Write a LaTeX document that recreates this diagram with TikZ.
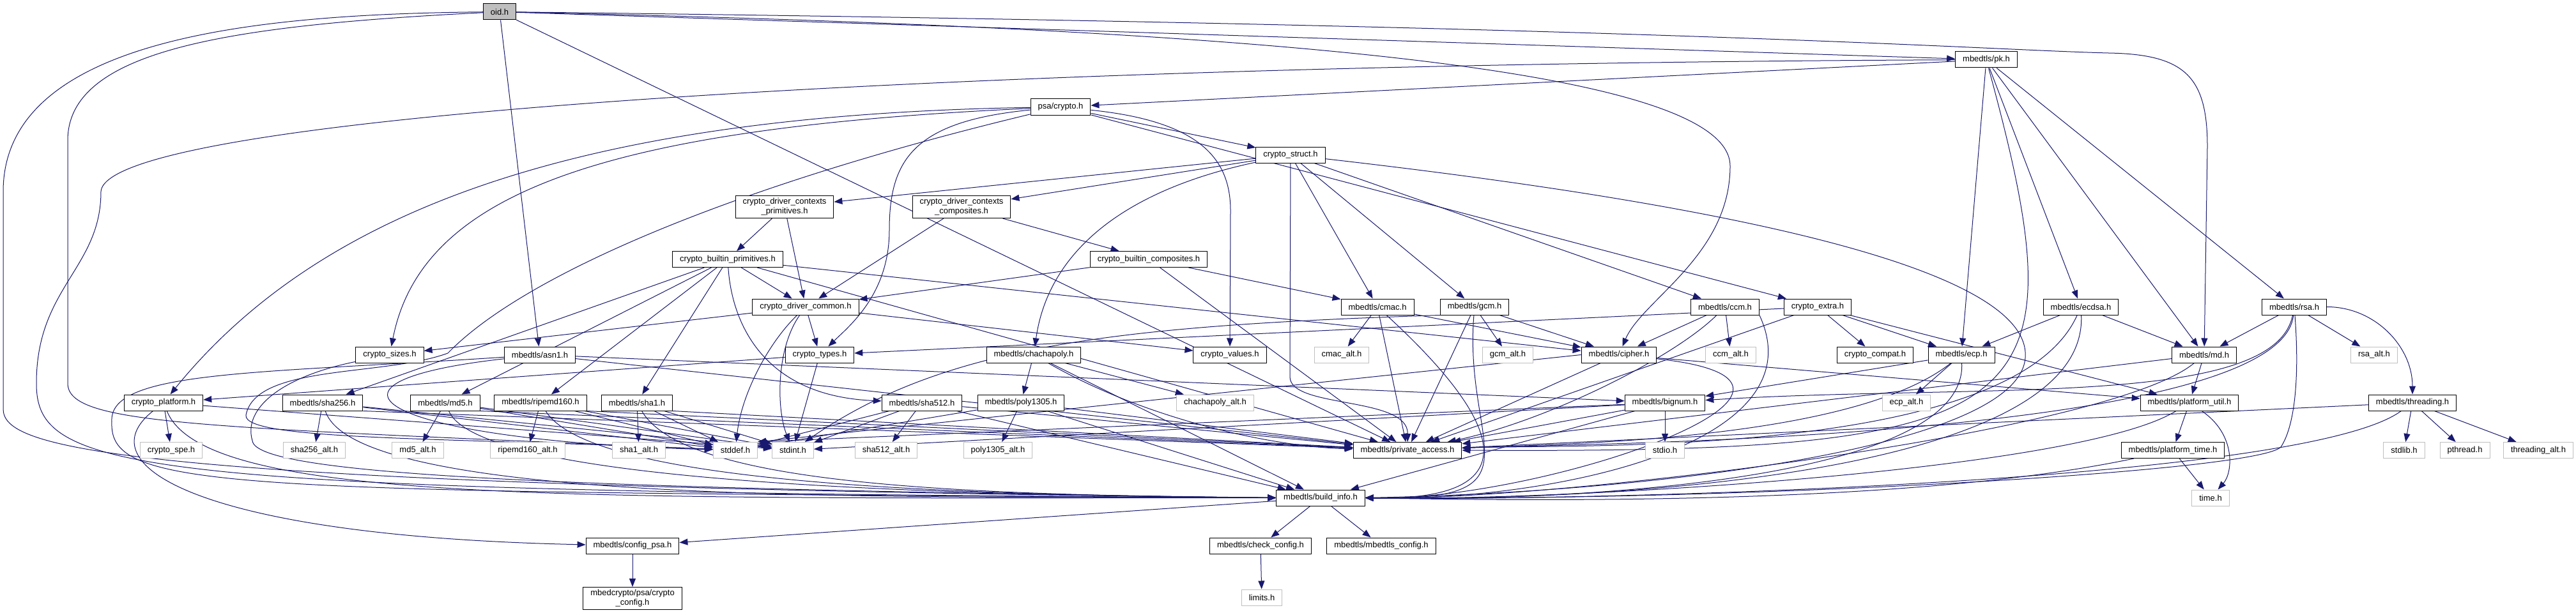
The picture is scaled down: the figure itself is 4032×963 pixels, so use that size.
\documentclass[tikz,border=0pt]{standalone}
\usepackage{fontspec}
\setsansfont{Liberation Sans}
\usetikzlibrary{arrows.meta}
\definecolor{edgecolor}{HTML}{191970}
\definecolor{syscolor}{HTML}{BFBFBF}
\pgfdeclarelayer{background}
\pgfsetlayers{background,main}

\begin{document}
\begin{tikzpicture}[
  x=1pt, y=-1pt,
  every node/.style={font=\fontsize{13}{15}\selectfont\sffamily},
  hdr/.style={draw=black, fill=white, line width=1pt, minimum height=25pt,
    inner xsep=11.5pt, inner ysep=4pt, align=center},
  sys/.style={hdr, draw=syscolor},
  root/.style={hdr, fill=syscolor},
  dep/.style={draw=edgecolor, line width=1pt, -{Triangle[length=13pt,width=10pt]}}
]
  \useasboundingbox (0,0) rectangle (4032,963);

  % top of the graph
  \node[root] (oid) at (782,18.5) {oid.h};
  \node[hdr] (pk) at (3109,93.5) {mbedtls/pk.h};
  \node[hdr] (psacrypto) at (1660,167.5) {psa/crypto.h};
  \node[hdr] (cstruct) at (2020,242.5) {crypto\_struct.h};
  \node[hdr] (ctxprim) at (1228,324) {crypto\_driver\_contexts\\\_primitives.h};
  \node[hdr] (ctxcomp) at (1505,324) {crypto\_driver\_contexts\\\_composites.h};
  \node[hdr] (bprim) at (1139,406) {crypto\_builtin\_primitives.h};
  \node[hdr] (bcomp) at (1798,406) {crypto\_builtin\_composites.h};

  \node[hdr] (drvcommon) at (1261,480.5) {crypto\_driver\_common.h};
  \node[hdr] (cmac) at (2156,480.5) {mbedtls/cmac.h};
  \node[hdr] (gcm) at (2308,480.5) {mbedtls/gcm.h};
  \node[hdr] (ccm) at (2700,480.5) {mbedtls/ccm.h};
  \node[hdr] (cextra) at (2845,480.5) {crypto\_extra.h};
  \node[hdr] (ecdsa) at (3257,480.5) {mbedtls/ecdsa.h};
  \node[hdr] (rsa) at (3591,480.5) {mbedtls/rsa.h};

  \node[hdr] (csizes) at (610,555.5) {crypto\_sizes.h};
  \node[hdr] (asn1) at (845,555.5) {mbedtls/asn1.h};
  \node[hdr] (ctypes) at (1283,555.5) {crypto\_types.h};
  \node[hdr] (chacha) at (1618,555.5) {mbedtls/chachapoly.h};
  \node[hdr] (cvalues) at (1925,555.5) {crypto\_values.h};
  \node[sys] (cmacalt) at (2100,555.5) {cmac\_alt.h};
  \node[sys] (gcmalt) at (2360,555.5) {gcm\_alt.h};
  \node[hdr] (cipher) at (2534,555.5) {mbedtls/cipher.h};
  \node[sys] (ccmalt) at (2709,555.5) {ccm\_alt.h};
  \node[hdr] (ccompat) at (2935,555.5) {crypto\_compat.h};
  \node[hdr] (ecp) at (3070,555.5) {mbedtls/ecp.h};
  \node[hdr] (md) at (3450,555.5) {mbedtls/md.h};
  \node[sys] (rsaalt) at (3716,555.5) {rsa\_alt.h};

  \node[hdr] (cplatform) at (256,630.5) {crypto\_platform.h};
  \node[hdr] (sha256) at (505,630.5) {mbedtls/sha256.h};
  \node[hdr] (md5) at (697,630.5) {mbedtls/md5.h};
  \node[hdr] (ripemd) at (846,630.5) {mbedtls/ripemd160.h};
  \node[hdr] (sha1) at (997,630.5) {mbedtls/sha1.h};
  \node[hdr] (sha512) at (1443,630.5) {mbedtls/sha512.h};
  \node[hdr] (poly) at (1598,630.5) {mbedtls/poly1305.h};
  \node[sys] (chachaalt) at (1902,630.5) {chachapoly\_alt.h};
  \node[hdr] (bignum) at (2606,630.5) {mbedtls/bignum.h};
  \node[sys] (ecpalt) at (2984,630.5) {ecp\_alt.h};
  \node[hdr] (putil) at (3427,630.5) {mbedtls/platform\_util.h};
  \node[hdr] (threading) at (3776,630.5) {mbedtls/threading.h};

  \node[sys] (cspe) at (268,705) {crypto\_spe.h};
  \node[sys] (sha256alt) at (492,705) {sha256\_alt.h};
  \node[sys] (md5alt) at (654,705) {md5\_alt.h};
  \node[sys] (ripemdalt) at (826,705) {ripemd160\_alt.h};
  \node[sys] (sha1alt) at (1000,705) {sha1\_alt.h};
  \node[sys] (stddef) at (1151,705) {stddef.h};
  \node[sys] (stdint) at (1241,705) {stdint.h};
  \node[sys] (sha512alt) at (1387,705) {sha512\_alt.h};
  \node[sys] (polyalt) at (1562,705) {poly1305\_alt.h};
  \node[hdr] (paccess) at (2203,705) {mbedtls/private\_access.h};
  \node[sys] (stdio) at (2606,705) {stdio.h};
  \node[hdr] (ptime) at (3401,705) {mbedtls/platform\_time.h};
  \node[sys] (stdlib) at (3763,705) {stdlib.h};
  \node[sys] (pthread) at (3858,705) {pthread.h};
  \node[sys] (threadalt) at (3973,705) {threading\_alt.h};

  \node[hdr] (binfo) at (2067,779.5) {mbedtls/build\_info.h};
  \node[sys] (time) at (3460,779.5) {time.h};

  \node[hdr] (configpsa) at (990,854.5) {mbedtls/config\_psa.h};
  \node[hdr] (checkcfg) at (1973,854.5) {mbedtls/check\_config.h};
  \node[hdr] (mbedcfg) at (2162,854.5) {mbedtls/mbedtls\_config.h};

  \node[hdr] (cryptocfg) at (990,937) {mbedcrypto/psa/crypto\\\_config.h};
  \node[sys] (limits) at (1975,935.5) {limits.h};

  \coordinate (lrail1) at (5,300);
  \coordinate (lrail2) at (5,640);
  \coordinate (orail1) at (106,220);
  \coordinate (orail2) at (106,600);
  \coordinate (pkw1) at (158,300);
  \coordinate (pkw2) at (57,600);
  \coordinate (snk1) at (701,553);
  \coordinate (snk2) at (385,650);
  \coordinate (szw) at (395,690);
  \coordinate (asw) at (175,660);
  \coordinate (ctline) at (1392,360);
  \coordinate (cvline) at (1926,330);
  \coordinate (cwp) at (2708,260);
  \coordinate (mwp1) at (3300,83);
  \coordinate (mwp2) at (3455,230);
  \coordinate (sbend) at (2019,590);
  \coordinate (csw1) at (3170,560);
  \coordinate (rsw) at (3570,700);

  \begin{pgfonlayer}{background}
    \fill[white] (0,0) rectangle (4032,963);

    \foreach \src/\dst in {
      oid/pk, oid/asn1, oid/paccess,
      pk/psacrypto, pk/ecp, pk/ecdsa, pk/md, pk/rsa,
      psacrypto/cstruct, psacrypto/cextra,
      cstruct/ctxprim, cstruct/ctxcomp, cstruct/cmac, cstruct/gcm, cstruct/ccm,
      ctxprim/bprim, ctxprim/drvcommon, ctxcomp/drvcommon, ctxcomp/bcomp,
      bcomp/drvcommon, bcomp/cmac, bcomp/paccess,
      bprim/drvcommon, bprim/sha256, bprim/md5, bprim/ripemd, bprim/sha1,
      bprim/cipher, bprim/paccess,
      drvcommon/ctypes, drvcommon/cvalues, drvcommon/csizes,
      ctypes/cplatform, ctypes/stdint,
      chacha/poly, chacha/chachaalt, chacha/binfo,
      poly/polyalt, poly/stddef, poly/paccess, poly/binfo,
      sha512/sha512alt, sha512/stddef, sha512/stdint, sha512/paccess, sha512/binfo,
      sha1/sha1alt, sha1/stddef, sha1/stdint,
      sha256/sha256alt, sha256/stddef, sha256/stdint,
      md5/md5alt, md5/stddef, md5/stdint,
      ripemd/ripemdalt, ripemd/stddef, ripemd/stdint,
      asn1/bignum, asn1/paccess,
      cplatform/cspe, cplatform/stdint,
      cmac/cmacalt, cmac/cipher, cmac/paccess,
      gcm/gcmalt, gcm/cipher, gcm/paccess,
      ccm/ccmalt, ccm/cipher,
      cipher/paccess, cipher/putil,
      cextra/ctypes, cextra/ccompat, cextra/ecp, cextra/putil, cextra/paccess,
      ecdsa/ecp, ecdsa/md,
      rsa/md, rsa/rsaalt,
      ecp/ecpalt, ecp/bignum,
      md/putil, md/paccess,
      putil/ptime, ptime/time,
      threading/stdlib, threading/pthread, threading/threadalt, threading/paccess,
      bignum/stdio, bignum/stdint, bignum/paccess, bignum/binfo,
      binfo/checkcfg, binfo/mbedcfg, binfo/configpsa,
      checkcfg/limits, configpsa/cryptocfg}
      \draw[dep] (\src) -- (\dst);

    \foreach \src in {sha256, md5, ripemd, sha1}
      \draw[dep] (\src.south east) -- (paccess);
    \foreach \src/\cx/\cy in {sha256/560/800, md5/752/760, ripemd/926/760, sha1/1072/760}
      \draw[dep] (\src) .. controls (\cx,\cy) and (1500,775) .. (binfo.west);
    \foreach \src/\cx/\cy in {cmac/2330/640, gcm/2290/700, cipher/2950/600,
      ecp/3080/760, ecdsa/3270/760, md/3300/680, putil/3250/740,
      ptime/3000/790, threading/3600/760}
      \draw[dep] (\src) .. controls (\cx,\cy) and (2420,785) .. (binfo.east);
    \draw[dep] (ccm.south east) .. controls (2850,700) and (2420,785) .. (binfo.east);
    \draw[dep] (rsa) .. controls (3600,600) and (3590,670) .. (rsw)
      .. controls (3530,740) and (2700,785) .. (binfo.east);

    \draw[dep] (oid) .. controls (400,22) and (5,60) .. (lrail1) -- (lrail2)
      .. controls (5,700) and (150,760) .. (binfo.west);
    \draw[dep] (oid) .. controls (350,40) and (106,80) .. (orail1) -- (orail2)
      .. controls (106,665) and (300,668) .. (stddef);
    \draw[dep] (oid) .. controls (2000,45) and (2708,110) .. (cwp)
      .. controls (2708,400) and (2570,470) .. (cipher);
    \draw[dep] (oid) .. controls (2600,40) and (3100,78) .. (mwp1)
      .. controls (3420,85) and (3455,120) .. (mwp2) -- (md);
    \draw[dep] (pk) .. controls (1500,100) and (165,180) .. (pkw1)
      .. controls (158,420) and (57,450) .. (pkw2)
      .. controls (57,740) and (200,770) .. (binfo.west);
    \draw[dep] (pk) .. controls (3260,650) and (3200,710) .. (paccess.east);

    \draw[dep] (psacrypto) .. controls (900,180) and (500,330) .. (cplatform);
    \draw[dep] (psacrypto) .. controls (950,200) and (660,300) .. (csizes);
    \draw[dep] (psacrypto) .. controls (1430,190) and (1392,250) .. (ctline)
      .. controls (1392,460) and (1330,510) .. (ctypes);
    \draw[dep] (psacrypto) .. controls (1880,190) and (1926,250) .. (cvline) -- (cvalues);
    \draw[dep] (psacrypto) .. controls (1150,290) and (820,430) .. (snk1)
      .. controls (600,590) and (400,570) .. (snk2)
      .. controls (380,690) and (700,685) .. (stddef);

    \draw[dep] (csizes) .. controls (440,590) and (380,640) .. (szw)
      .. controls (400,745) and (900,765) .. (binfo.west);
    \draw[dep] (asn1) .. controls (400,585) and (170,580) .. (asw)
      .. controls (170,770) and (350,770) .. (binfo.west);

    \draw[dep] (cstruct) .. controls (1750,300) and (1640,400) .. (chacha);
    \draw[dep] (cstruct) -- (sbend) .. controls (2019,640) and (2204,620) .. (paccess);
    \draw[dep] (cstruct) .. controls (2700,320) and (3180,420) .. (csw1)
      .. controls (3160,700) and (2600,770) .. (binfo.east);

    \draw[dep] (bprim) .. controls (1145,500) and (1190,620) .. (sha512);
    \draw[dep] (drvcommon) .. controls (1200,540) and (1160,620) .. (stddef);
    \draw[dep] (drvcommon) .. controls (1215,545) and (1215,640) .. (stdint);
    \draw[dep] (asn1) .. controls (450,600) and (600,690) .. (stddef);
    \draw[dep] (cplatform) .. controls (130,730) and (320,840) .. (configpsa);
    \draw[dep] (cplatform) .. controls (320,790) and (900,780) .. (binfo.west);
    \draw[dep] (chacha) .. controls (1800,660) and (2000,700) .. (paccess);
    \draw[dep] (gcm.south west) .. controls (1750,510) and (1480,540) .. (stdint);
    \draw[dep] (cipher.west) -- (stddef.north east);
    \draw[dep] (bignum) -- (stddef.north east);
    \draw[dep] (ccm) .. controls (2620,560) and (2420,660) .. (paccess);
    \draw[dep] (ecp) .. controls (2900,690) and (2450,695) .. (paccess);
    \draw[dep] (ecdsa) .. controls (3150,720) and (2450,695) .. (paccess);
    \draw[dep] (rsa) .. controls (3570,690) and (2450,695) .. (paccess);
    \draw[dep] (rsa) .. controls (3560,640) and (3100,600) .. (bignum);
    \draw[dep] (rsa) to[out=0, in=90] (threading);
    \draw[dep] (putil) .. controls (3500,680) and (3495,740) .. (time);
  \end{pgfonlayer}
\end{tikzpicture}
\end{document}
